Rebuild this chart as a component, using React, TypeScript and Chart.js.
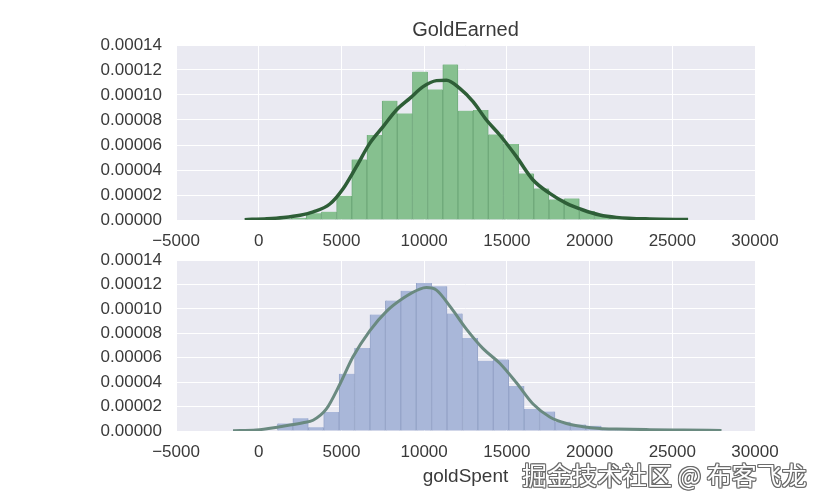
import React, { useEffect, useRef } from "react";
import { Chart, registerables } from "chart.js";

Chart.register(...registerables);

// ---------- data ----------
const xTickValues = [-5000, 0, 5000, 10000, 15000, 20000, 25000, 30000];
const yTickValues = [0, 0.00002, 0.00004, 0.00006, 0.00008, 0.0001, 0.00012, 0.00014];

const earnedBinCenters = [1498, 2415, 3332, 4249, 5166, 6083, 7000, 7917, 8834, 9751, 10668, 11585, 12502, 13419, 14336, 15253, 16170, 17087, 18004, 18921, 19838, 20755, 21672, 22589, 23506];
const earnedDensity = [0.000001, 0.0000018, 0.0000054, 0.0000067, 0.0000195, 0.0000485, 0.000068, 0.0000955, 0.0000853, 0.0001187, 0.0001045, 0.0001245, 0.0000875, 0.000088, 0.0000685, 0.0000608, 0.0000373, 0.0000253, 0.0000165, 0.0000173, 0.0000072, 0.000004, 0.0000019, 0.0000008, 0.0000005];

const earnedKdeX = [-850, 500, 1500, 2500, 3300, 4300, 5100, 5905, 6711, 7518, 8324, 9131, 9937, 10744, 11349, 12153, 12956, 13766, 14571, 15580, 16584, 17594, 18604, 19607, 20617, 21626, 23640, 25955];
const earnedKdeY = [0.0000003, 0.000001, 0.000002, 0.0000038, 0.0000065, 0.0000128, 0.000025, 0.0000427, 0.0000613, 0.0000747, 0.000088, 0.0000973, 0.0001067, 0.0001115, 0.0001118, 0.0001053, 0.0000947, 0.00008, 0.000068, 0.0000507, 0.000032, 0.0000213, 0.0000133, 0.000008, 0.000004, 0.0000021, 0.0000008, 0.0000004];

const spentBinCenters = [1598, 2530, 3462, 4394, 5326, 6258, 7190, 8122, 9054, 9986, 10918, 11850, 12782, 13714, 14646, 15578, 16510, 17442, 18374, 19306, 20238, 21170, 22102, 23034, 23966];
const spentDensity = [0.0000062, 0.0000105, 0.000003, 0.0000155, 0.0000469, 0.000068, 0.0000955, 0.0001069, 0.0001149, 0.0001213, 0.0001187, 0.0000963, 0.0000763, 0.0000576, 0.0000587, 0.0000368, 0.0000181, 0.000016, 0.0000075, 0.0000053, 0.0000043, 0.000002, 0.0000015, 0.000001, 0.0000008];

const spentKdeX = [-1552, -141, 1270, 2679, 3283, 4093, 4897, 5700, 6711, 7721, 8724, 9734, 10139, 10744, 11600, 12556, 13563, 14571, 15580, 16584, 17594, 18604, 19607, 20617, 21626, 23640, 25653, 27976];
const spentKdeY = [0.0000003, 0.0000008, 0.0000035, 0.0000067, 0.0000088, 0.0000181, 0.0000381, 0.0000608, 0.0000821, 0.0000981, 0.0001088, 0.0001163, 0.0001176, 0.0001155, 0.0001015, 0.0000835, 0.0000675, 0.0000555, 0.0000395, 0.0000221, 0.0000115, 0.0000061, 0.0000035, 0.0000021, 0.0000016, 0.0000011, 0.0000008, 0.0000005];

const topTitle = "GoldEarned";
const bottomXLabel = "goldSpent";
const watermark = "掘金技术社区 @ 布客飞龙";

// ---------- styling ----------
const FONT = "'Liberation Sans', Arial, sans-serif";
const TEXT = "#3a3a3a";

const bgPlugin = {
  id: "plotBg",
  beforeDraw(chart: any) {
    const { ctx, chartArea } = chart;
    if (!chartArea) return;
    ctx.save();
    ctx.fillStyle = "#EAEAF2";
    ctx.fillRect(chartArea.left, chartArea.top, chartArea.right - chartArea.left, chartArea.bottom - chartArea.top);
    ctx.restore();
  },
};

function fmtX(v: number) {
  return v < 0 ? "\u2212" + String(Math.abs(v)) : String(v);
}

function makeConfig(opts: {
  centers: number[];
  dens: number[];
  kx: number[];
  ky: number[];
  barColor: string;
  barEdge: string;
  lineColor: string;
  lineWidth: number;
  title?: string;
  xlabel?: string;
  padTop: number;
  xAxisHeight: number;
}) {
  const barData = opts.centers.map((c, i) => ({ x: c, y: opts.dens[i] }));
  const lineData = opts.kx.map((x, i) => ({ x, y: opts.ky[i] }));
  return {
    type: "bar",
    data: {
      datasets: [
        {
          type: "line",
          data: lineData,
          borderColor: opts.lineColor,
          borderWidth: opts.lineWidth,
          pointRadius: 0,
          fill: false,
          cubicInterpolationMode: "monotone",
          order: 0,
        },
        {
          type: "bar",
          data: barData,
          backgroundColor: opts.barColor,
          borderColor: opts.barEdge,
          borderWidth: { left: 1, right: 1, top: 0, bottom: 0 },
          borderSkipped: false,
          barPercentage: 1,
          categoryPercentage: 1,
          order: 1,
        },
      ],
    },
    options: {
      responsive: false,
      animation: false,
      events: [],
      layout: { padding: { left: 0, right: 67, top: opts.padTop, bottom: 0 } },
      plugins: {
        legend: { display: false },
        tooltip: { enabled: false },
        title: {
          display: !!opts.title,
          text: opts.title || "",
          fullSize: false,
          color: TEXT,
          font: { family: FONT, size: 20, weight: "normal" },
          padding: { top: 18, bottom: 3 },
        },
      },
      scales: {
        x: {
          type: "linear",
          min: -5000,
          max: 30000,
          offset: false,
          afterBuildTicks(scale: any) {
            scale.ticks = xTickValues.map((v) => ({ value: v }));
          },
          afterFit(scale: any) {
            scale.height = opts.xAxisHeight;
          },
          grid: { color: "#ffffff", lineWidth: 1, drawTicks: false, offset: false },
          border: { display: false },
          ticks: {
            color: TEXT,
            font: { family: FONT, size: 17 },
            padding: 11,
            maxRotation: 0,
            autoSkip: false,
            callback: (v: any) => fmtX(Number(v)),
          },
          title: {
            display: !!opts.xlabel,
            text: opts.xlabel || "",
            color: TEXT,
            font: { family: FONT, size: 19 },
            padding: { top: 0, bottom: 14 },
          },
        },
        y: {
          type: "linear",
          min: 0,
          max: 0.00014,
          afterBuildTicks(scale: any) {
            scale.ticks = yTickValues.map((v) => ({ value: v }));
          },
          afterFit(scale: any) {
            scale.width = 176;
          },
          grid: { color: "#ffffff", lineWidth: 1, drawTicks: false },
          border: { display: false },
          ticks: {
            color: TEXT,
            font: { family: FONT, size: 17 },
            padding: 14,
            autoSkip: false,
            callback: (v: any) => Number(v).toFixed(5),
          },
        },
      },
    },
    plugins: [bgPlugin],
  } as any;
}

export default function App() {
  const topRef = useRef<HTMLCanvasElement | null>(null);
  const botRef = useRef<HTMLCanvasElement | null>(null);

  useEffect(() => {
    const top = new Chart(
      topRef.current as HTMLCanvasElement,
      makeConfig({
        centers: earnedBinCenters,
        dens: earnedDensity,
        kx: earnedKdeX,
        ky: earnedKdeY,
        barColor: "#86C08F",
        barEdge: "#6FA97A",
        lineColor: "#2E5E37",
        lineWidth: 3.5,
        title: topTitle,
        padTop: 0,
        xAxisHeight: 32,
      })
    );
    const bot = new Chart(
      botRef.current as HTMLCanvasElement,
      makeConfig({
        centers: spentBinCenters,
        dens: spentDensity,
        kx: spentKdeX,
        ky: spentKdeY,
        barColor: "#A9B7D9",
        barEdge: "#95A4C8",
        lineColor: "#6A8A80",
        lineWidth: 3,
        xlabel: bottomXLabel,
        padTop: 20,
        xAxisHeight: 71,
      })
    );
    return () => {
      top.destroy();
      bot.destroy();
    };
  }, []);

  return (
    <div style={{ position: "absolute", left: 0, top: 0, width: 822, height: 502, background: "#fff", overflow: "hidden" }}>
      <canvas ref={topRef} width={822} height={252} style={{ position: "absolute", left: 0, top: 0, width: 822, height: 252 }} />
      <canvas ref={botRef} width={822} height={266} style={{ position: "absolute", left: 0, top: 236, width: 822, height: 266 }} />
      <span
        style={{
          position: "absolute",
          left: 522,
          top: 458,
          fontFamily: "'Noto Sans CJK SC', sans-serif",
          fontSize: 25,
          lineHeight: "32px",
          color: "#ffffff",
          whiteSpace: "nowrap",
          textShadow: "1px 0 0 #6b6b6b, -1px 0 0 #6b6b6b, 0 1px 0 #6b6b6b, 0 -1px 0 #6b6b6b, 1px 1px 0 #6b6b6b, -1px -1px 0 #6b6b6b, 1px -1px 0 #6b6b6b, -1px 1px 0 #6b6b6b",
        }}
      >
        {watermark}
      </span>
    </div>
  );
}
